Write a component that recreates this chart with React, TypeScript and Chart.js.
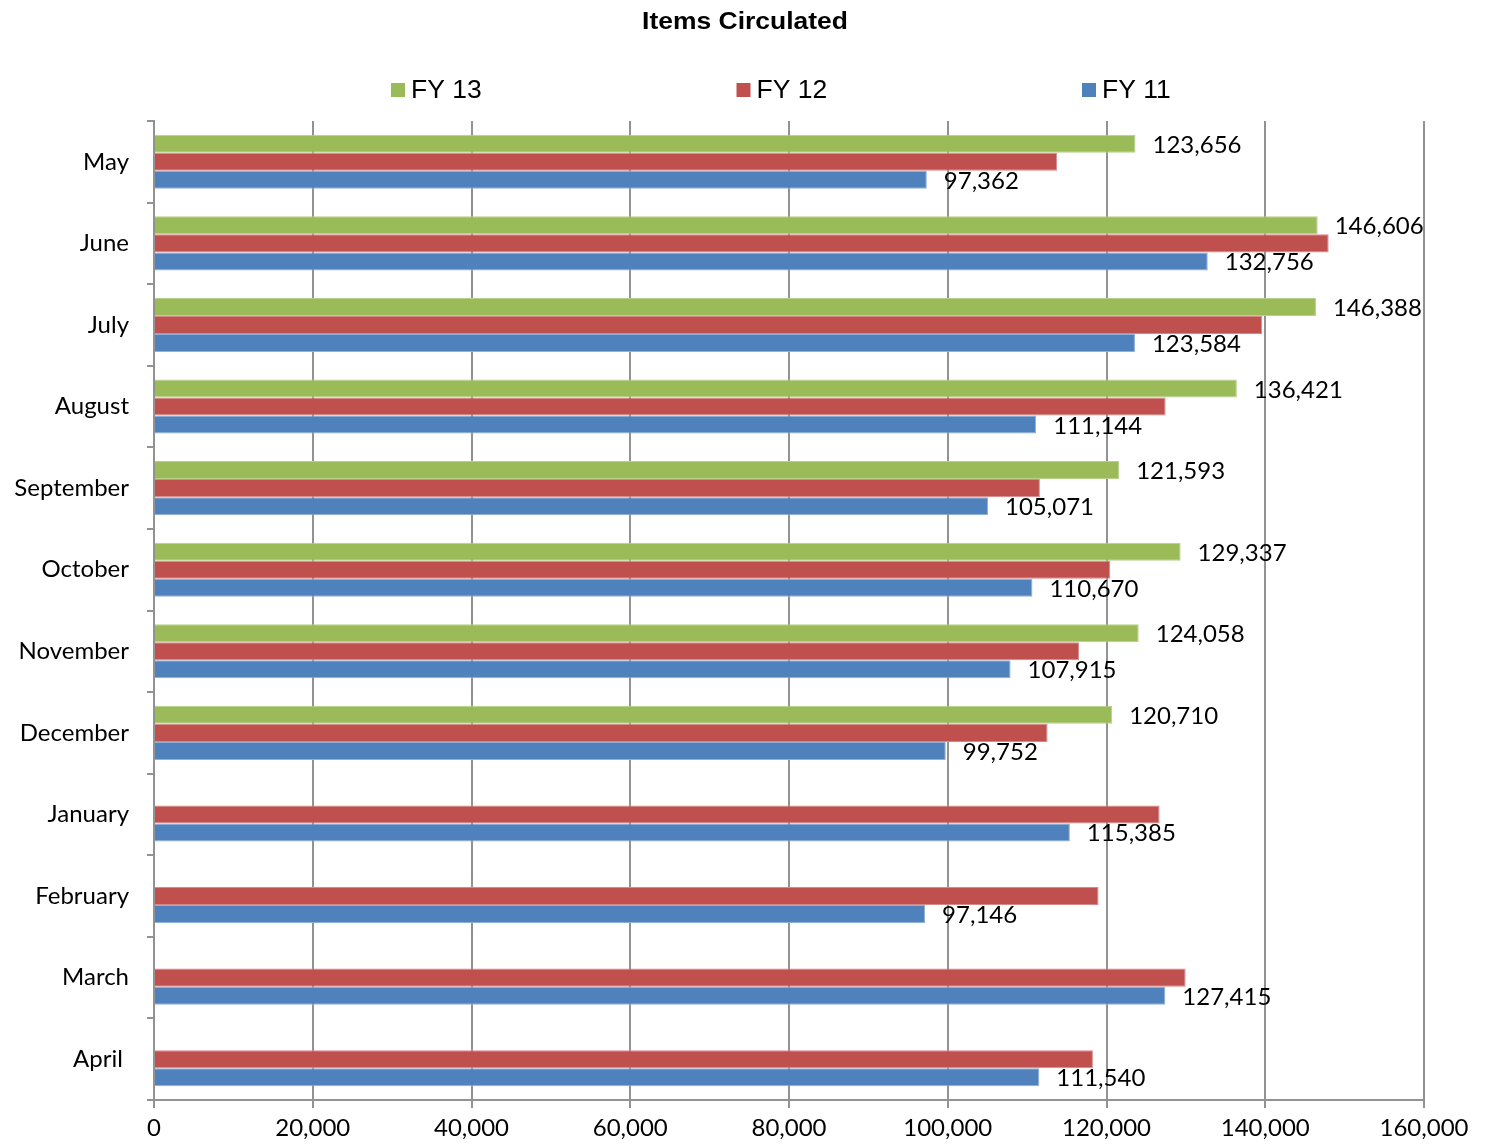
import React, { useEffect, useRef } from "react";
import { Chart, registerables } from "chart.js";

Chart.register(...registerables);

// Months of the circulation year, May through April
const months = [
  "May",
  "June",
  "July",
  "August",
  "September",
  "October",
  "November",
  "December",
  "January",
  "February",
  "March",
  "April ",
];

// Items circulated per month for each fiscal year
const fy13 = [123656, 146606, 146388, 136421, 121593, 129337, 124058, 120710, null, null, null, null];
const fy12 = [113790, 147990, 139620, 127450, 111610, 120470, 116560, 112580, 126690, 119000, 129970, 118290];
const fy11 = [97362, 132756, 123584, 111144, 105071, 110670, 107915, 99752, 115385, 97146, 127415, 111540];

const seriesNames = ["FY 13", "FY 12", "FY 11"];
const seriesColors = ["#9BBB59", "#C0504D", "#4F81BD"];
const seriesEdges = ["#b7d08a", "#d7898a", "#8eafd8"];
// Only these series carry value labels
const labelledSeries = [0, 2];

const xTicks = [0, 20000, 40000, 60000, 80000, 100000, 120000, 140000, 160000];

const chartTitle = "Items Circulated";

const gridColor = "#929292";
const sansFont = "Lato, 'Open Sans', sans-serif";
const headFont = "'Liberation Sans', Arial, sans-serif";

const fmt = (v: number) => v.toLocaleString("en-US");

// Title, spread-out legend and value labels drawn onto the chart canvas
const decorPlugin = {
  id: "decor",
  afterDraw(chart: any) {
    const ctx = chart.ctx as CanvasRenderingContext2D;

    // Title (wide bold face)
    ctx.save();
    ctx.fillStyle = "#000";
    ctx.font = `bold 23px ${headFont}`;
    ctx.textAlign = "center";
    ctx.textBaseline = "alphabetic";
    ctx.translate(745, 29);
    ctx.scale(1.15, 1);
    ctx.fillText(chartTitle, 0, 0);
    ctx.restore();

    // Legend
    ctx.save();
    const legendStart = 391;
    const legendStep = 345.5;
    ctx.font = `26.5px ${headFont}`;
    ctx.textBaseline = "alphabetic";
    ctx.textAlign = "left";
    seriesNames.forEach((name, i) => {
      const x = legendStart + i * legendStep;
      ctx.fillStyle = seriesColors[i];
      ctx.fillRect(x, 83, 14, 14);
      ctx.fillStyle = "#000";
      ctx.fillText(name, x + 20, 98);
    });
    ctx.restore();

    // Value labels to the right of the bars
    ctx.save();
    ctx.font = `24px ${sansFont}`;
    ctx.fillStyle = "#000";
    ctx.textAlign = "left";
    ctx.textBaseline = "alphabetic";
    labelledSeries.forEach((di) => {
      const meta = chart.getDatasetMeta(di);
      const data = chart.data.datasets[di].data as (number | null)[];
      meta.data.forEach((el: any, idx: number) => {
        const v = data[idx];
        if (v == null) return;
        ctx.fillText(fmt(v), el.x + 17, el.y + 9);
      });
    });
    ctx.restore();
  },
};

export default function App() {
  const canvasRef = useRef<HTMLCanvasElement | null>(null);

  useEffect(() => {
    const canvas = canvasRef.current;
    if (!canvas) return;
    const chart = new Chart(canvas, {
      type: "bar",
      data: {
        labels: months,
        datasets: [fy13, fy12, fy11].map((d, i) => ({
          label: seriesNames[i],
          data: d,
          backgroundColor: seriesColors[i],
          borderColor: seriesEdges[i],
          borderWidth: 1,
          barPercentage: 1,
          categoryPercentage: 0.663,
        })),
      },
      options: {
        indexAxis: "y",
        animation: false,
        responsive: true,
        maintainAspectRatio: false,
        events: [],
        layout: { padding: { top: 121, right: 62, left: 0, bottom: 0 } },
        plugins: {
          legend: { display: false },
          title: { display: false },
          tooltip: { enabled: false },
        },
        scales: {
          x: {
            type: "linear",
            min: 0,
            max: 160000,
            afterBuildTicks: (scale: any) => {
              scale.ticks = xTicks.map((v) => ({ value: v }));
            },
            afterFit: (scale: any) => {
              scale.height = 47;
            },
            grid: {
              color: gridColor,
              lineWidth: 2,
              drawTicks: true,
              tickLength: 8,
              tickColor: gridColor,
            },
            border: { display: true, color: gridColor, width: 2 },
            ticks: {
              color: "#000",
              font: { family: sansFont, size: 24 },
              padding: 6,
              maxRotation: 0,
              autoSkip: false,
              callback: (v: any) => fmt(Number(v)),
            },
          },
          y: {
            type: "category",
            afterFit: (scale: any) => {
              scale.width = 154;
            },
            grid: {
              offset: true,
              drawOnChartArea: false,
              drawTicks: true,
              tickLength: 7,
              color: gridColor,
              lineWidth: 2,
            },
            border: { display: true, color: gridColor, width: 2 },
            ticks: {
              color: "#000",
              font: { family: sansFont, size: 24 },
              padding: 18,
              autoSkip: false,
            },
          },
        },
      },
      plugins: [decorPlugin],
    });
    return () => chart.destroy();
  }, []);

  return (
    <div
      style={{
        position: "absolute",
        left: 0,
        top: 0,
        width: 1486,
        height: 1147,
        background: "#fff",
      }}
    >
      <canvas ref={canvasRef} />
    </div>
  );
}
